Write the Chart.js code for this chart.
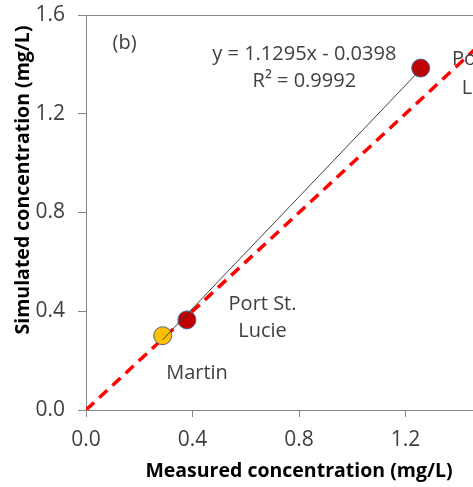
<!DOCTYPE html>
<html>
<head>
<meta charset="utf-8">
<script src="https://cdn.jsdelivr.net/npm/chart.js@4"></script>
<style>
  html, body { margin: 0; padding: 0; overflow: hidden; background: #fff; }
  #wrap { width: 560px; height: 487px; }
</style>
</head>
<body>
<div id="wrap"><canvas id="chart" width="560" height="487"></canvas></div>
<script>
// Measured vs simulated values
const measured = [0.288, 0.379, 1.257];
const simulated = [0.301, 0.365, 1.385];

// Linear trendline end points (y = 1.1295x - 0.0398)
const trendX = [0.288, 1.257];
const trendY = [0.285, 1.380];

// 1:1 line
const oneToOneX = [0.0, 1.6];
const oneToOneY = [0.0, 1.6];

const tickValues = [0.0, 0.4, 0.8, 1.2, 1.6];

// Text placed on the plot (data coordinates)
const notes = [
    { text: '(b)', x: 0.145, y: 1.485 },
    { text: 'y = 1.1295x - 0.0398', x: 0.82, y: 1.44 },
    { text: 'R\u00B2 = 0.9992', x: 0.82, y: 1.33 },
    { text: 'Port St.', x: 0.663, y: 0.43 },
    { text: 'Lucie', x: 0.663, y: 0.318 },
    { text: 'Martin', x: 0.417, y: 0.15 },
    { text: 'Port St.', x: 1.502, y: 1.419 },
    { text: 'Lucie', x: 1.502, y: 1.305 }
];

const toPoints = (xs, ys) => xs.map((x, i) => ({ x: x, y: ys[i] }));

const FONT = "'Open Sans', sans-serif";
const AXIS_GRAY = '#868686';

// Draws the top frame line, the text notes and the y axis title
const extrasPlugin = {
    id: 'extras',
    afterDraw(chart) {
        const ctx = chart.ctx;
        const area = chart.chartArea;
        const xs = chart.scales.x;
        const ys = chart.scales.y;

        ctx.save();
        ctx.strokeStyle = AXIS_GRAY;
        ctx.lineWidth = 1;
        ctx.beginPath();
        ctx.moveTo(area.left, area.top + 0.5);
        ctx.lineTo(area.right, area.top + 0.5);
        ctx.stroke();

        ctx.fillStyle = '#404040';
        ctx.font = '20px ' + FONT;
        ctx.textAlign = 'center';
        ctx.textBaseline = 'middle';
        notes.forEach(n => {
            ctx.fillText(n.text, xs.getPixelForValue(n.x), ys.getPixelForValue(n.y));
        });

        // y axis title
        ctx.translate(23, 180);
        ctx.rotate(-Math.PI / 2);
        ctx.fillStyle = '#000';
        ctx.font = 'bold 19.5px ' + FONT;
        ctx.fillText('Simulated concentration (mg/L)', 0, 0);
        ctx.restore();
    }
};

const tickFmt = v => Number(v).toFixed(1);

// keep the plot box where the reference has it
function noScalePadding(scale) {
    scale.paddingTop = 0;
    scale.paddingBottom = 0;
    scale.paddingLeft = 0;
    scale.paddingRight = 0;
}

new Chart(document.getElementById('chart'), {
    type: 'scatter',
    data: {
        datasets: [
            {
                label: 'Trendline',
                data: toPoints(trendX, trendY),
                showLine: true,
                borderColor: '#404040',
                borderWidth: 1,
                pointRadius: 0,
                order: 0
            },
            {
                label: 'Sites',
                data: toPoints(measured, simulated),
                backgroundColor: ['#FFC000', '#C00000', '#C00000'],
                borderColor: '#4A6391',
                borderWidth: 1,
                pointRadius: 9,
                order: 1
            },
            {
                label: '1:1',
                data: toPoints(oneToOneX, oneToOneY),
                showLine: true,
                borderColor: '#FF0000',
                borderWidth: 3.5,
                borderDash: [11, 7],
                pointRadius: 0,
                order: 2
            }
        ]
    },
    options: {
        responsive: false,
        animation: false,
        layout: { padding: { top: 15, right: 48, left: 0, bottom: 0 } },
        plugins: {
            legend: { display: false },
            tooltip: { enabled: false }
        },
        scales: {
            x: {
                type: 'linear',
                min: 0,
                max: 1.6,
                afterBuildTicks: scale => { scale.ticks = tickValues.map(v => ({ value: v })); },
                afterFit: scale => { scale.height = 77; noScalePadding(scale); },
                ticks: {
                    callback: tickFmt,
                    color: '#404040',
                    font: { family: FONT, size: 21 },
                    padding: 10,
                    maxRotation: 0
                },
                grid: {
                    drawOnChartArea: false,
                    color: AXIS_GRAY,
                    tickLength: 7
                },
                border: { color: AXIS_GRAY, width: 1 },
                title: {
                    display: true,
                    text: 'Measured concentration (mg/L)',
                    color: '#000',
                    font: { family: FONT, size: 19.5, weight: 'bold' },
                    padding: { top: 0, bottom: 4 }
                }
            },
            y: {
                type: 'linear',
                min: 0,
                max: 1.6,
                afterBuildTicks: scale => { scale.ticks = tickValues.map(v => ({ value: v })); },
                afterFit: scale => { scale.width = 86; noScalePadding(scale); },
                ticks: {
                    callback: tickFmt,
                    color: '#404040',
                    font: { family: FONT, size: 21 },
                    padding: 13
                },
                grid: {
                    drawOnChartArea: false,
                    color: AXIS_GRAY,
                    tickLength: 8
                },
                border: { color: AXIS_GRAY, width: 1 }
            }
        }
    },
    plugins: [extrasPlugin]
});
</script>
</body>
</html>
